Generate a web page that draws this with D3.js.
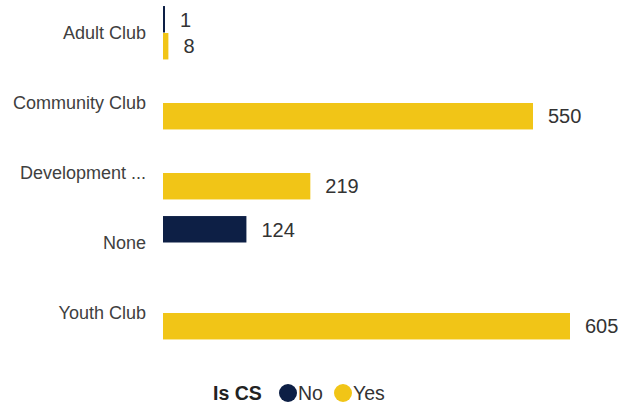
<!DOCTYPE html>
<html><head><meta charset="utf-8">
<script src="https://cdn.jsdelivr.net/npm/d3@7"></script>
<style>body{margin:0;background:#fff}svg{display:block}</style>
</head><body>
<svg id="c" width="620" height="405"></svg>
<script>
const categories = ["Adult Club","Community Club","Development ...","None","Youth Club"];
const seriesNames = ["No","Yes"];
const noValues  = [1, null, null, 124, null];
const yesValues = [8, 550, 219, null, 605];
const legendTitle = "Is CS";
const colors = {No:"#0d1f45", Yes:"#f1c517"};

const svg = d3.select("#c");
const font = "'Liberation Sans', Arial, sans-serif";
const x = d3.scaleLinear().domain([0,605]).range([163,570]);
const y = d3.scaleBand().domain(categories).range([-2,348]).paddingInner(0.23).paddingOuter(0.115);
const ys = d3.scaleBand().domain(seriesNames).range([0,y.bandwidth()]);

const rows = [];
categories.forEach((c,i)=>{
  if(noValues[i]!=null) rows.push({cat:c, s:"No", v:noValues[i]});
  if(yesValues[i]!=null) rows.push({cat:c, s:"Yes", v:yesValues[i]});
});

const yAxis = d3.axisLeft(y).tickSize(0).tickPadding(0);
const ga = svg.append("g").attr("transform","translate(146,0)").call(yAxis);
ga.select(".domain").remove();
ga.selectAll("text").attr("font-family",font).attr("font-size","18px").attr("fill","#404040").attr("dy","0.35em");

svg.append("g").selectAll("rect").data(rows).join("rect")
  .attr("x",x(0)).attr("y",d=>y(d.cat)+ys(d.s))
  .attr("width",d=>Math.max(2,x(d.v)-x(0))).attr("height",ys.bandwidth()-0.5)
  .attr("fill",d=>colors[d.s]);

svg.append("g").selectAll("text").data(rows).join("text")
  .attr("x",d=>Math.max(x(0)+2,x(d.v))+15).attr("y",d=>y(d.cat)+ys(d.s)+ys.bandwidth()/2)
  .attr("dy","0.35em").attr("font-family",font).attr("font-size","20px").attr("fill","#333")
  .text(d=>d.v);

const lg = svg.append("g").attr("font-family",font).attr("font-size","19.5px").attr("fill","#333");
lg.append("text").attr("x",213).attr("y",393).attr("dy","0.35em").attr("font-weight","bold").attr("fill","#222").text(legendTitle);
const lx = [288, 343];
seriesNames.forEach((s,i)=>{
  lg.append("circle").attr("cx",lx[i]).attr("cy",393).attr("r",9).attr("fill",colors[s]);
  lg.append("text").attr("x",lx[i]+10).attr("y",393).attr("dy","0.35em").text(s);
});
</script>
</body></html>
